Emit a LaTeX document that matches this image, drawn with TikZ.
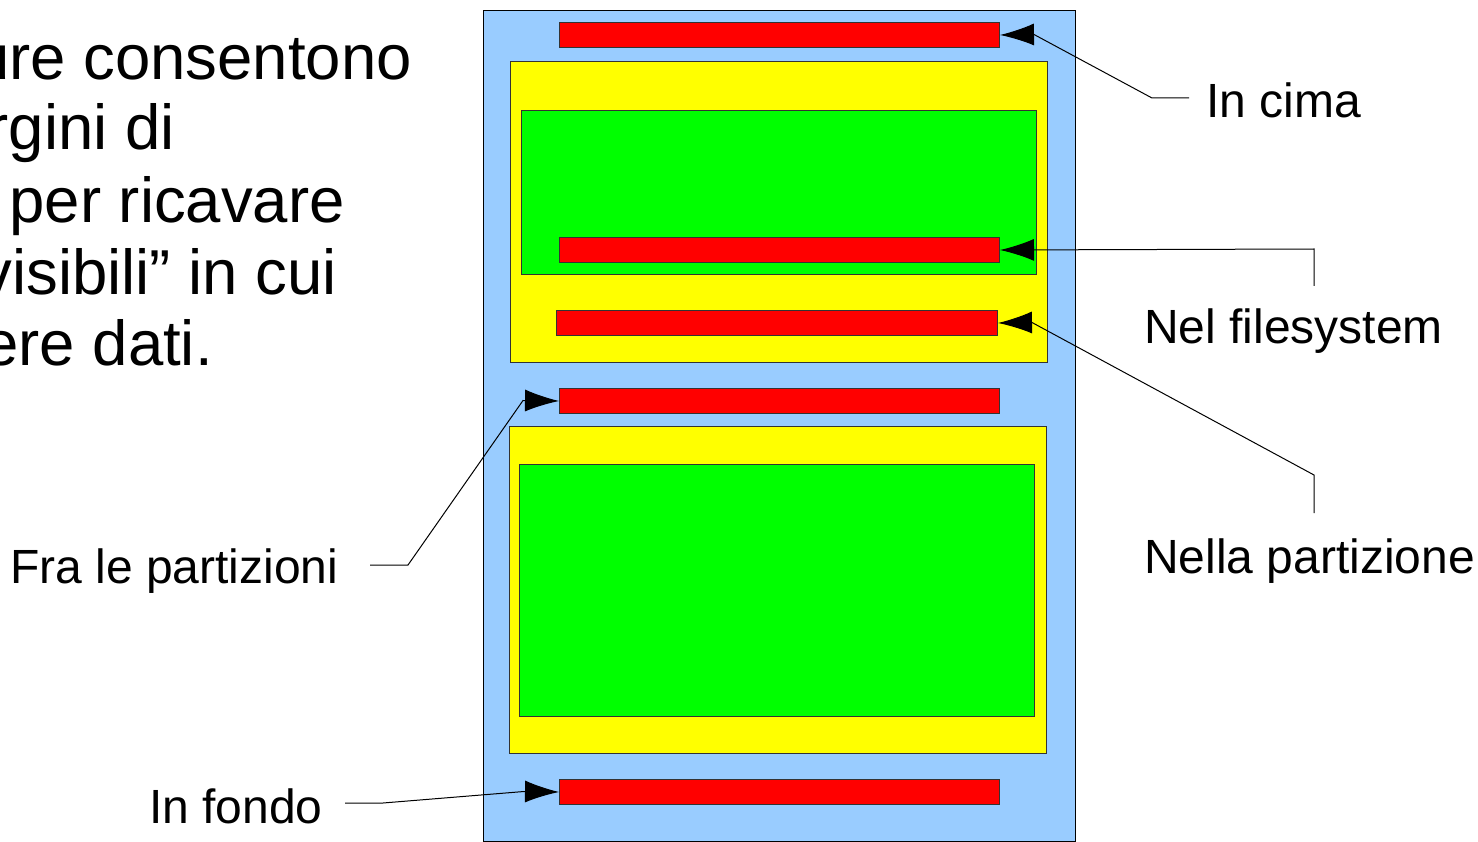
\documentclass[tikz,border=0pt]{standalone}
\usepackage{fontspec}
\setmainfont{Liberation Sans}
\usetikzlibrary{arrows.meta}
\definecolor{bluebg}{HTML}{99CCFF}
\definecolor{yel}{HTML}{FFFF00}
\definecolor{grn}{HTML}{00FF00}
\definecolor{rd}{HTML}{FF0000}
\definecolor{edge}{HTML}{333333}
\tikzset{
  box/.style={draw=edge, line width=1pt, inner sep=0pt, anchor=north west},
  disk/.style={box, draw=black, fill=bluebg},
  part/.style={box, fill=yel},
  fs/.style={box, fill=grn},
  redbar/.style={box, fill=rd, minimum width=440pt, minimum height=25pt},
  lbl/.style={font=\fontsize{48}{52}\selectfont, inner sep=0pt, anchor=base west},
  bigtxt/.style={font=\fontsize{63.5}{71}\selectfont, inner sep=0pt, anchor=base east},
  conn/.style={line width=1pt, -{Latex[length=34pt,width=22pt]}}
}
\begin{document}
\begin{tikzpicture}[x=1pt,y=-1pt]
\useasboundingbox (0,0) rectangle (1478,842);
\clip (0,0) rectangle (1478,842);
% left text (cut off at the left edge, as in the reference)
\node[bigtxt] (t1) at (412,80) {ure consentono};
\node[bigtxt] (t2) at (175,150) {rgini di};
\node[bigtxt] (t3) at (345,223) {per ricavare};
\node[bigtxt] (t4) at (337,295) {visibili” in cui};
\node[bigtxt] (t5) at (213,365) {ere dati.};
% disk
\node[disk, minimum width=592pt, minimum height=831pt] (dsk) at (483,10) {};
\node[redbar] (r1) at (559,22) {};
\node[part, minimum width=537pt, minimum height=301pt] (p1) at (510,61) {};
\node[fs, minimum width=515pt, minimum height=164pt] (f1) at (521,110) {};
\node[redbar] (r2) at (559,237) {};
\node[redbar, minimum width=441pt] (r3) at (556,310) {};
\node[redbar] (r4) at (559,388) {};
\node[part, minimum width=537pt, minimum height=327pt] (p2) at (509,426) {};
\node[fs, minimum width=515pt, minimum height=252pt] (f2) at (519,464) {};
\node[redbar] (r5) at (559,779) {};
% labels
\node[lbl] (lcima) at (1206,118) {In cima};
\node[lbl] (lfs) at (1144,343) {Nel filesystem};
\node[lbl] (lpart) at (1144,573) {Nella partizione};
\node[lbl] (lfra) at (10,583) {Fra le partizioni};
\node[lbl] (lfondo) at (149,823) {In fondo};
% connectors
\coordinate (c1) at (1189,98);
\coordinate (c2) at (1314,286);
\coordinate (c3) at (1314,513);
\coordinate (c4) at (370,565);
\coordinate (c5) at (345,803);
\draw[conn] (c1) -- (1152,98) -- (1034,34.5) -- (r1.east);
\draw[conn] (c2) -- (1314,249) -- (r2.east);
\draw[conn] (c3) -- (1314,475) -- (1032,322.5) -- (r3.east);
\draw[conn] (c4) -- (408,565) -- (523,400.5) -- (r4.west);
\draw[conn] (c5) -- (383,803) -- (524,791.5) -- (r5.west);
\end{tikzpicture}
\end{document}
